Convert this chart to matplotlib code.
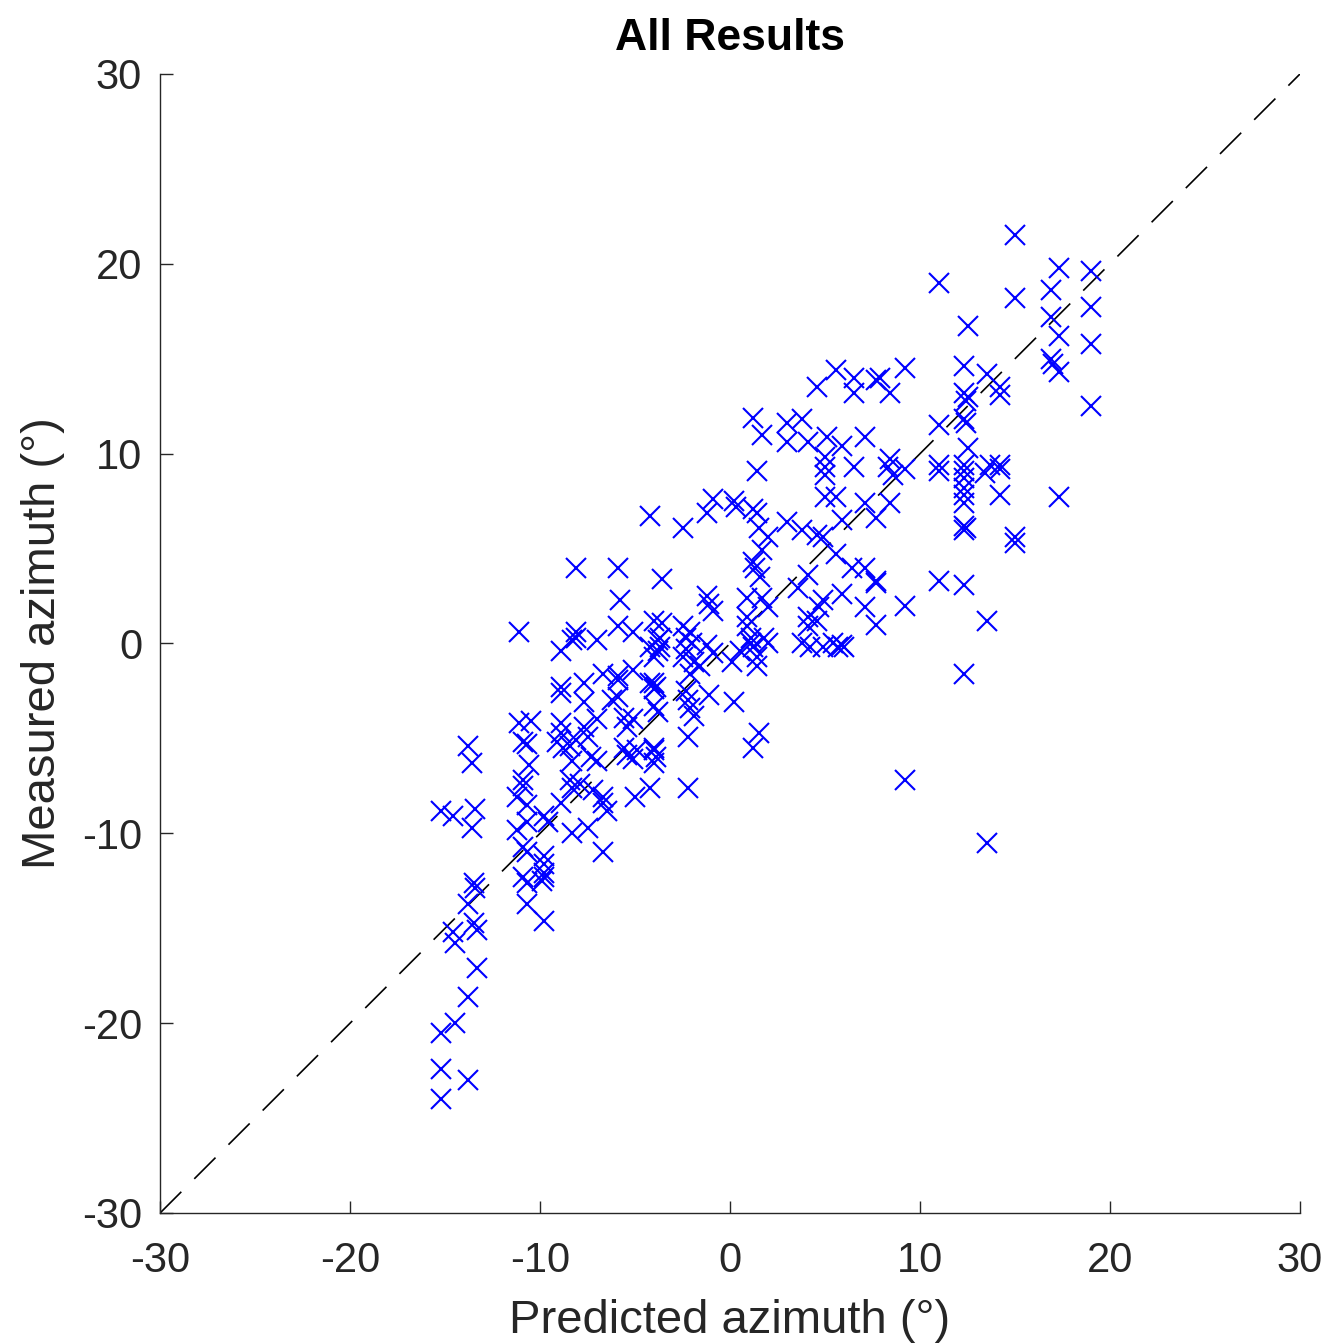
import matplotlib
matplotlib.use("Agg")
import matplotlib.pyplot as plt

# predicted / measured azimuth pairs (degrees)
predicted = [
    # upper right
    15.0, 11.0, 17.3, 19.0, 15.0, 16.9, 19.0, 16.9, 12.5, 17.3, 19.0, 16.9, 17.3, 17.0,
    9.2, 12.3, 13.5, 7.9, 8.4, 14.2, 14.2, 12.3, 12.5, 12.4, 19.0, 11.0, 12.3, 12.4,
    12.5, 8.4, 11.0, 12.3, 13.7, 14.2,
    8.3, 8.6, 9.2, 11.0, 12.3, 12.3, 12.3, 12.3, 12.3, 13.4, 14.2, 14.2, 17.3, 8.4,
    12.3, 12.4, 12.3, 15.0, 15.0, 11.0, 12.3, 9.2, 13.5, 12.3, 7.7, 7.7, 7.7,
    9.2, 13.5,
    # upper middle
    5.6, 6.5, 6.5, 4.6, 7.7, 1.2, 1.7, 3.0, 3.0, 3.8, 4.1, 5.1, 5.9, 7.1, 5.0,
    5.0, 5.0, 6.5, 1.4,
    -4.2, -2.5, -0.9, -1.2, 0.2, 0.3, 1.2, 1.4, 1.5, 2.0, 1.7, 3.0, 3.8, 4.6, 4.9,
    5.0, 5.6, 5.9, 7.1, 5.6, 6.4, 7.1, 7.7, 1.2, 1.3, 1.6, 4.1, 3.6, -3.6,
    -1.2, -1.1, -0.9, 0.9, 1.7, 2.0, 0.9, 0.9, 5.9, 4.9, 4.7, 7.1, 4.1, 4.1, 4.6,
    -3.6, -3.8, -3.7,
    -2.5, -2.1, -2.0, -2.3, -2.5, -1.9, -1.6, -1.2, -0.9, -2.3, 0.1,
    1.1, 1.1, 1.2, 1.4, 1.4, 1.8, 2.0, 0.5,
    3.8, 4.2, 4.9, 5.4, 5.9, 5.7, 6.0,
    # lower middle
    -4.0, -3.9, -2.1, -2.3, -2.2, -1.1, 0.2, -4.0, -3.8, -2.1, -1.9, -2.2, 1.5, 1.2,
    -4.0, -3.9, -4.2, -2.2,
    # left cluster
    -8.1, -5.9, -5.8, -11.1, -8.1, -8.1, -8.3, -7.0, -5.9, -5.1, -8.9, -4.0, -3.7,
    -4.2, -4.0, -3.8, -6.7, -5.9, -5.9, -5.1, -4.2, -4.0, -8.9, -8.9, -7.7, -7.7,
    -6.2, -5.9, -5.6, -5.1, -5.4, -11.1, -10.5, -8.9, -8.9, -7.7, -7.0,
    -13.8, -13.6, -10.9, -10.7, -9.1, -8.8, -8.4, -8.1, -7.5, -7.3, -7.0, -8.3, -10.6,
    -5.6, -5.4, -4.9, -4.0, -5.1, -4.0,
    -10.9, -10.9, -8.4, -8.3, -7.9, -7.2, -6.7, -6.7, -6.5, -5.0,
    -11.2, -10.7, -15.2, -14.6, -13.4, -13.6, -11.2, -10.7, -9.8, -9.6, -8.9, -8.3,
    -7.5, -6.7, -10.9, -10.7, -9.8, -9.8, -9.8, -9.9, -9.8, -10.9, -10.7,
    -13.5, -13.4, -10.7, -9.8, -13.8, -13.5,
    # lower left
    -14.6, -14.5, -13.3, -13.3, -13.8, -14.5, -15.2, -15.2, -13.8, -15.2,
]
measured = [
    # upper right
    21.5, 19.0, 19.8, 19.6, 18.2, 18.6, 17.7, 17.2, 16.7, 16.2, 15.8, 15.0, 14.3, 14.7,
    14.5, 14.6, 14.2, 14.0, 13.2, 13.5, 13.1, 13.2, 13.0, 12.8, 12.5, 11.5, 11.8, 11.6,
    10.3, 9.7, 9.4, 9.4, 9.4, 9.4,
    9.3, 8.9, 9.2, 9.1, 9.1, 8.7, 8.2, 7.8, 7.4, 9.0, 9.2, 7.8, 7.7, 7.4,
    6.2, 6.1, 6.0, 5.6, 5.3, 3.3, 3.1, 2.0, 1.2, -1.6, 3.3, 1.0, 6.6,
    -7.2, -10.5,
    # upper middle
    14.4, 14.0, 13.2, 13.5, 13.9, 11.9, 11.0, 11.6, 10.6, 11.8, 10.6, 10.9, 10.4, 10.9, 9.8,
    9.3, 8.9, 9.3, 9.1,
    6.7, 6.1, 7.6, 6.9, 7.5, 7.2, 7.1, 6.9, 6.1, 5.6, 4.9, 6.4, 6.0, 5.7, 5.6,
    7.7, 7.7, 6.5, 7.4, 4.7, 4.0, 4.0, 3.2, 4.3, 4.0, 3.5, 3.6, 2.9, 3.4,
    2.5, 2.1, 1.7, 2.4, 2.4, 1.9, 1.4, 0.9, 2.6, 2.3, 1.9, 1.9, 1.4, 0.9, 1.2,
    1.1, 0.2, -0.2,
    0.9, 0.6, 0.0, -0.3, -0.7, -1.0, -1.2, -0.1, -0.5, 0.3, -1.0,
    0.3, 0.0, -0.2, -0.7, -1.2, 0.3, 0.0, -0.4,
    0.0, -0.2, -0.2, 0.0, -0.1, -0.2, -0.2,
    # lower middle
    -2.1, -2.3, -1.6, -2.5, -3.0, -2.7, -3.1, -3.3, -3.6, -3.4, -3.8, -4.9, -4.7, -5.5,
    -5.5, -6.0, -7.6, -7.6,
    # left cluster
    4.0, 4.0, 2.3, 0.6, 0.6, 0.3, 0.2, 0.2, 0.9, 0.6, -0.4, 1.2, 0.3,
    -0.2, -0.7, -0.4, -1.6, -1.7, -1.9, -1.4, -2.1, -2.4, -2.3, -2.6, -2.1, -3.1,
    -3.0, -2.8, -3.9, -4.0, -4.4, -4.2, -4.1, -4.2, -4.7, -4.4, -4.0,
    -5.4, -6.3, -5.2, -5.3, -5.2, -5.5, -5.4, -5.1, -4.9, -6.0, -6.2, -6.2, -6.4,
    -5.5, -5.9, -5.6, -5.6, -6.1, -6.3,
    -7.2, -7.5, -7.2, -7.6, -7.4, -7.7, -8.1, -8.4, -8.8, -8.1,
    -8.1, -8.5, -8.8, -9.1, -8.7, -9.7, -9.8, -9.4, -9.1, -9.4, -8.4, -10.0,
    -9.7, -11.0, -10.7, -11.0, -11.2, -11.6, -12.1, -12.5, -12.3, -12.3, -12.6,
    -12.6, -12.9, -13.7, -14.6, -13.7, -14.7,
    # lower left
    -15.2, -15.8, -15.1, -17.1, -18.6, -20.0, -20.5, -22.4, -23.0, -24.0,
]

axis_range = [-30, 30]
ticks = [-30, -20, -10, 0, 10, 20, 30]

plt.rcParams["font.family"] = ["Liberation Sans", "DejaVu Sans"]

fig = plt.figure(figsize=(13.23, 13.43), dpi=100)
ax = fig.add_axes([0.121, 0.0968, 0.8616, 0.8481])

# identity line
ax.plot(axis_range, axis_range, color="black", linewidth=1.2,
        linestyle=(0, (18, 11)))

ax.plot(predicted, measured, linestyle="none", marker="x", markersize=14,
        markeredgewidth=1.5, color="#0000ff")

ax.set_xlim(axis_range)
ax.set_ylim(axis_range)
ax.set_xticks(ticks)
ax.set_yticks(ticks)
ax.set_xticklabels([str(t) for t in ticks])
ax.set_yticklabels([str(t) for t in ticks])

ax.spines["top"].set_visible(False)
ax.spines["right"].set_visible(False)
for s in ["left", "bottom"]:
    ax.spines[s].set_color("#262626")
    ax.spines[s].set_linewidth(1.0)

ax.tick_params(direction="in", length=9, width=1.0, colors="#262626",
               labelsize=30)
ax.tick_params(axis="x", pad=20)
ax.tick_params(axis="y", pad=13)

ax.set_xlabel("Predicted azimuth (°)", fontsize=34, color="#262626", labelpad=13)
ax.set_ylabel("Measured azimuth (°)", fontsize=34, color="#262626", labelpad=12)
ax.set_title("All Results", fontsize=32, fontweight="bold", pad=17)

fig.savefig("out.png", dpi=100)
